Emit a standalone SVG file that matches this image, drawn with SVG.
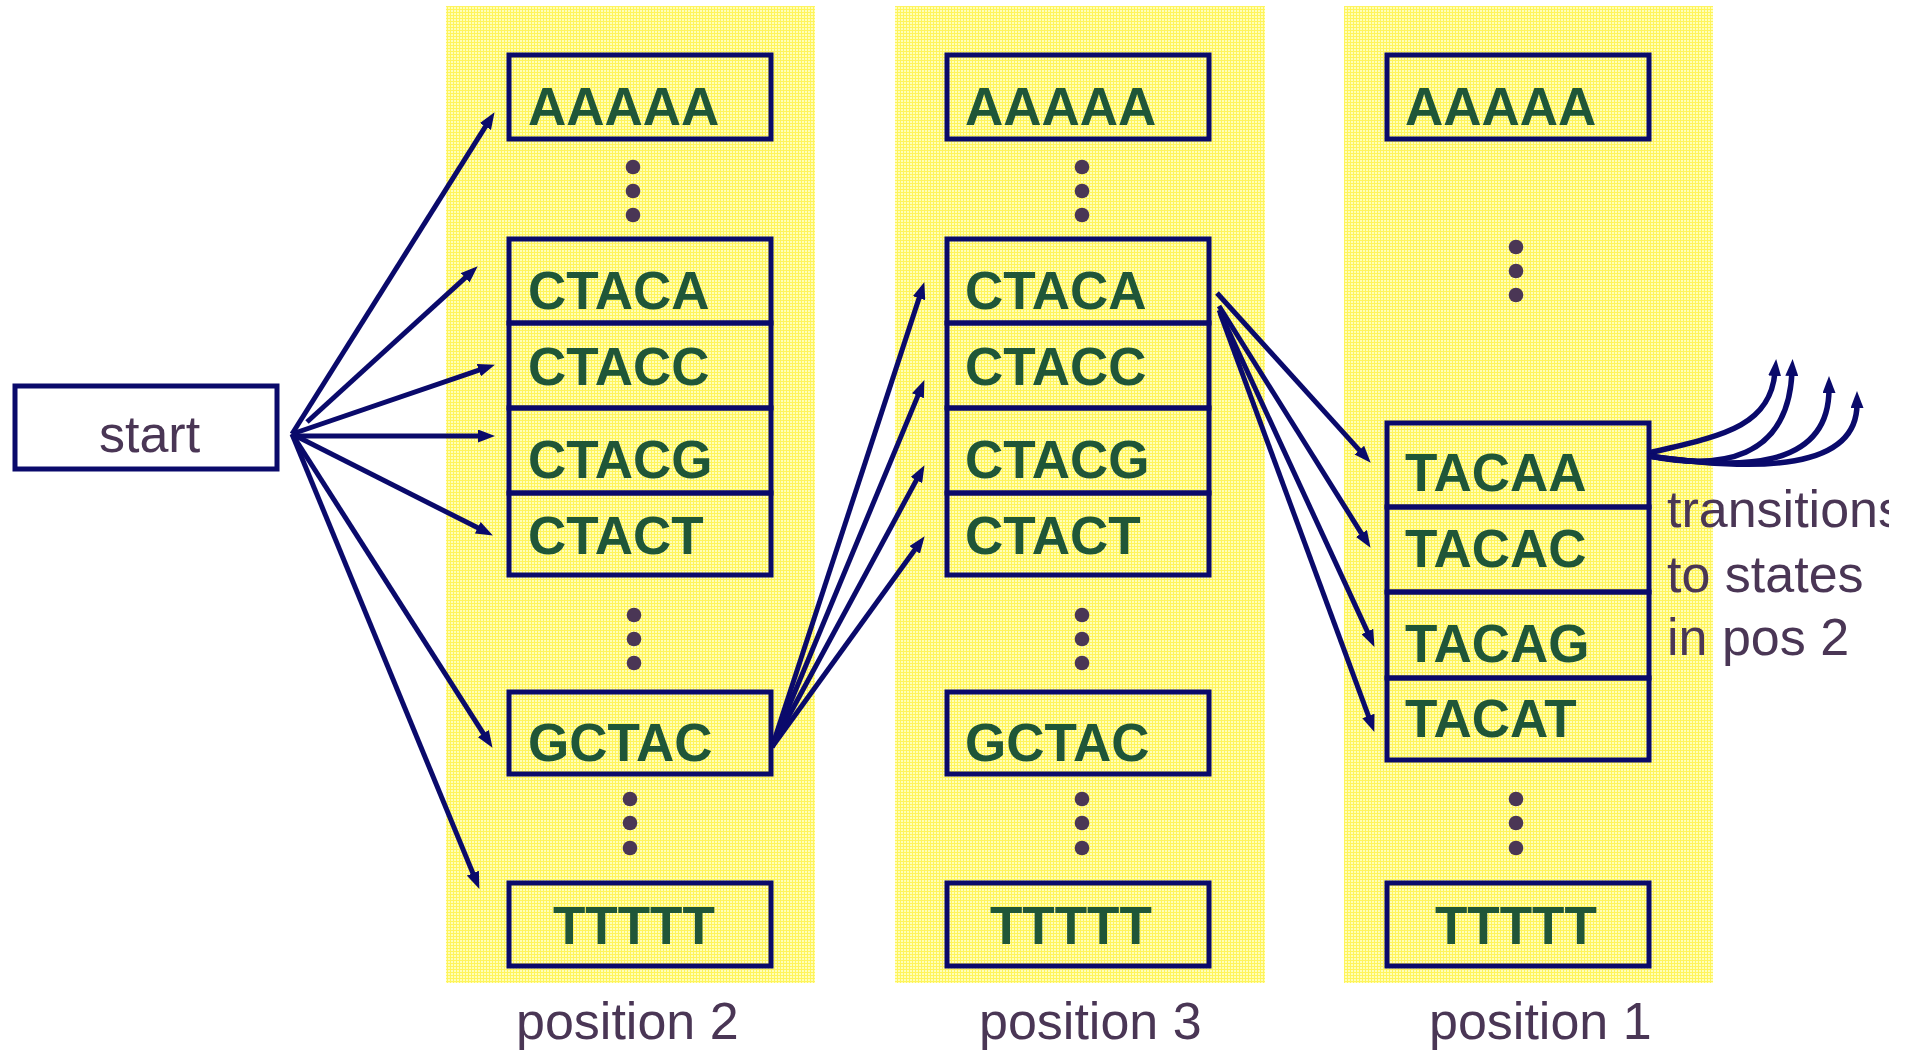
<svg xmlns="http://www.w3.org/2000/svg" width="1914" height="1050" viewBox="0 0 1914 1050">
<defs>
<pattern id="grid" width="3" height="3" patternUnits="userSpaceOnUse">
<rect width="3" height="3" fill="#FFFFB8"/>
<rect width="3" height="1" fill="#FFF45C"/>
<rect width="1" height="3" fill="#FFF45C"/>
</pattern>
<clipPath id="clipR"><rect x="0" y="0" width="1889" height="1050"/></clipPath>
<marker id="ah" markerUnits="userSpaceOnUse" markerWidth="17" markerHeight="13" refX="4" refY="6.5" orient="auto">
<path d="M0,0 L17,6.5 L0,13 z" fill="#0A0A6B"/>
</marker>
<style>
.col{fill:url(#grid);}
.box{fill:none;stroke:#0A0A6B;stroke-width:5;}
.lbl{font-family:"Liberation Sans",Arial,sans-serif;font-weight:bold;font-size:53px;fill:#1F5638;}
.txt{font-family:"Liberation Sans",Arial,sans-serif;font-size:52px;fill:#4A3655;}
.dot{fill:#4A3655;}
.edge{fill:none;stroke:#0A0A6B;stroke-width:5;marker-end:url(#ah);}
.curve{fill:none;stroke:#0A0A6B;stroke-width:5.5;marker-end:url(#ah);}
</style>
</defs>
<rect width="1914" height="1050" fill="#FFFFFF"/>
<g id="columns">
<rect class="col" x="446" y="6" width="369" height="977"/>
<rect class="col" x="895" y="6" width="370" height="977"/>
<rect class="col" x="1344" y="6" width="369" height="977"/>
</g>
<g id="start">
<rect class="box" x="15" y="386" width="262" height="83"/>
<text class="txt" x="99" y="452">start</text>
</g>
<g id="p2-AAAAA"><rect class="box" x="509" y="55" width="262" height="84"/><text class="lbl" x="528" y="125">AAAAA</text></g>
<g id="p2-CTACA"><rect class="box" x="509" y="239" width="262" height="84"/><text class="lbl" x="528" y="309">CTACA</text></g>
<g id="p2-CTACC"><rect class="box" x="509" y="323" width="262" height="85"/><text class="lbl" x="528" y="385">CTACC</text></g>
<g id="p2-CTACG"><rect class="box" x="509" y="408" width="262" height="85"/><text class="lbl" x="528" y="478">CTACG</text></g>
<g id="p2-CTACT"><rect class="box" x="509" y="493" width="262" height="82"/><text class="lbl" x="528" y="554">CTACT</text></g>
<g id="p2-GCTAC"><rect class="box" x="509" y="692" width="262" height="82"/><text class="lbl" x="528" y="761">GCTAC</text></g>
<g id="p2-TTTTT"><rect class="box" x="509" y="883" width="262" height="83"/><text class="lbl" x="553" y="944">TTTTT</text></g>
<g id="p2-dots">
<circle class="dot" cx="633" cy="167" r="7.3"/><circle class="dot" cx="633" cy="191" r="7.3"/><circle class="dot" cx="633" cy="215" r="7.3"/>
<circle class="dot" cx="634" cy="615" r="7.3"/><circle class="dot" cx="634" cy="639" r="7.3"/><circle class="dot" cx="634" cy="663" r="7.3"/>
<circle class="dot" cx="630" cy="799" r="7.3"/><circle class="dot" cx="630" cy="823" r="7.3"/><circle class="dot" cx="630" cy="848" r="7.3"/>
</g>
<g id="p3-AAAAA"><rect class="box" x="947" y="55" width="262" height="84"/><text class="lbl" x="965" y="125">AAAAA</text></g>
<g id="p3-CTACA"><rect class="box" x="947" y="239" width="262" height="84"/><text class="lbl" x="965" y="309">CTACA</text></g>
<g id="p3-CTACC"><rect class="box" x="947" y="323" width="262" height="85"/><text class="lbl" x="965" y="385">CTACC</text></g>
<g id="p3-CTACG"><rect class="box" x="947" y="408" width="262" height="85"/><text class="lbl" x="965" y="478">CTACG</text></g>
<g id="p3-CTACT"><rect class="box" x="947" y="493" width="262" height="82"/><text class="lbl" x="965" y="554">CTACT</text></g>
<g id="p3-GCTAC"><rect class="box" x="947" y="692" width="262" height="82"/><text class="lbl" x="965" y="761">GCTAC</text></g>
<g id="p3-TTTTT"><rect class="box" x="947" y="883" width="262" height="83"/><text class="lbl" x="990" y="944">TTTTT</text></g>
<g id="p3-dots">
<circle class="dot" cx="1082" cy="167" r="7.3"/><circle class="dot" cx="1082" cy="191" r="7.3"/><circle class="dot" cx="1082" cy="215" r="7.3"/>
<circle class="dot" cx="1082" cy="615" r="7.3"/><circle class="dot" cx="1082" cy="639" r="7.3"/><circle class="dot" cx="1082" cy="663" r="7.3"/>
<circle class="dot" cx="1082" cy="799" r="7.3"/><circle class="dot" cx="1082" cy="823" r="7.3"/><circle class="dot" cx="1082" cy="848" r="7.3"/>
</g>
<g id="p1-AAAAA"><rect class="box" x="1387" y="55" width="262" height="84"/><text class="lbl" x="1405" y="125">AAAAA</text></g>
<g id="p1-TACAA"><rect class="box" x="1387" y="423" width="262" height="84"/><text class="lbl" x="1405" y="491">TACAA</text></g>
<g id="p1-TACAC"><rect class="box" x="1387" y="507" width="262" height="85"/><text class="lbl" x="1405" y="567">TACAC</text></g>
<g id="p1-TACAG"><rect class="box" x="1387" y="592" width="262" height="86"/><text class="lbl" x="1405" y="662">TACAG</text></g>
<g id="p1-TACAT"><rect class="box" x="1387" y="678" width="262" height="82"/><text class="lbl" x="1405" y="737">TACAT</text></g>
<g id="p1-TTTTT"><rect class="box" x="1387" y="883" width="262" height="83"/><text class="lbl" x="1435" y="944">TTTTT</text></g>
<g id="p1-dots">
<circle class="dot" cx="1516" cy="247" r="7.3"/><circle class="dot" cx="1516" cy="271" r="7.3"/><circle class="dot" cx="1516" cy="295" r="7.3"/>
<circle class="dot" cx="1516" cy="799" r="7.3"/><circle class="dot" cx="1516" cy="823" r="7.3"/><circle class="dot" cx="1516" cy="848" r="7.3"/>
</g>
<g id="labels">
<text class="txt" x="516" y="1039">position 2</text>
<text class="txt" x="979" y="1039">position 3</text>
<text class="txt" x="1429" y="1039">position 1</text>
<g clip-path="url(#clipR)">
<text class="txt" x="1667" y="527">transitions</text>
</g>
<text class="txt" x="1667" y="592">to states</text>
<text class="txt" x="1667" y="655">in pos 2</text>
</g>
<g id="connectors">
<line class="edge" x1="292" y1="434" x2="487.6" y2="123.2"/>
<line class="edge" x1="307" y1="422" x2="468.1" y2="275.1"/>
<line class="edge" x1="292" y1="434" x2="482.6" y2="368.9"/>
<line class="edge" x1="292" y1="436" x2="482" y2="436"/>
<line class="edge" x1="292" y1="434" x2="481.3" y2="529.6"/>
<line class="edge" x1="292" y1="434" x2="485.5" y2="736.9"/>
<line class="edge" x1="292" y1="434" x2="474.4" y2="876.9"/>
<line class="edge" x1="772" y1="747" x2="920.3" y2="294.4"/>
<line class="edge" x1="772" y1="747" x2="919.4" y2="392.1"/>
<line class="edge" x1="772" y1="747" x2="918.3" y2="476.6"/>
<line class="edge" x1="772" y1="747" x2="917" y2="546.7"/>
<line class="edge" x1="1217" y1="293" x2="1362" y2="453.1"/>
<line class="edge" x1="1219" y1="306" x2="1363.6" y2="536.8"/>
<line class="edge" x1="1219" y1="310" x2="1369" y2="635.1"/>
<line class="edge" x1="1220" y1="313" x2="1369.8" y2="719.7"/>
<path class="curve" d="M1649,453 C1720,436 1770,428 1775,372"/>
<path class="curve" d="M1649,456 C1720,470 1788,460 1792,372"/>
<path class="curve" d="M1649,456 C1740,470 1829,470 1829,389"/>
<path class="curve" d="M1649,456 C1760,472 1857,470 1857,404"/>
</g>
</svg>
